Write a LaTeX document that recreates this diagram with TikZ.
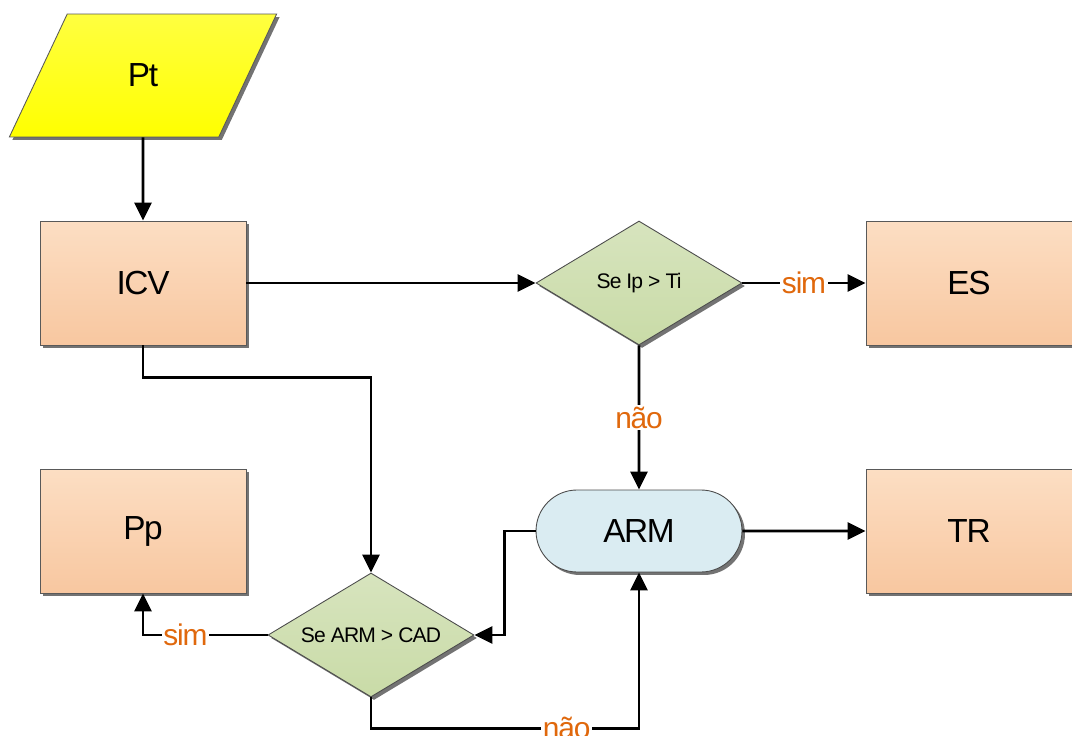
\documentclass[tikz,border=0pt]{standalone}
\usepackage{fontspec}
\setmainfont{Liberation Sans}[LetterSpace=-4]
\usetikzlibrary{shapes.geometric, shapes.misc, arrows.meta, shadows, positioning}
\definecolor{boxtop}{HTML}{FCDEC3}
\definecolor{boxbot}{HTML}{F8C7A0}
\definecolor{testtop}{HTML}{D7E4BE}
\definecolor{testbot}{HTML}{C9DBA7}
\definecolor{storefill}{HTML}{DAECF2}
\definecolor{inputtop}{HTML}{FFFF40}
\definecolor{inputbot}{HTML}{FFFF00}
\definecolor{answercol}{HTML}{E0680C}
\tikzset{
	flowshadow/.style={drop shadow={shadow xshift=0.06cm, shadow yshift=-0.06cm, opacity=1, fill=black!55}}
}
\tikzset{
	procbox/.style={rectangle, draw=black!65, line width=0.5pt, top color=boxtop, bottom color=boxbot,
		minimum width=4.12cm, minimum height=2.48cm, inner sep=0pt, font=\fontsize{19}{22}\selectfont, flowshadow},
	testbox/.style={diamond, shape aspect=1.66, draw=black!70, line width=0.5pt, top color=testtop, bottom color=testbot,
		minimum width=4.12cm, minimum height=2.48cm, inner sep=0pt, font=\fontsize{12}{14}\selectfont, flowshadow},
	storebox/.style={rounded rectangle, draw=black!70, line width=0.5pt, fill=storefill,
		minimum width=4.12cm, minimum height=1.64cm, inner sep=0pt, font=\fontsize{19}{22}\selectfont, flowshadow},
	inputbox/.style={trapezium, trapezium left angle=63.6, trapezium right angle=116.4, trapezium stretches=true,
		draw=black!65, line width=0.5pt, top color=inputtop, bottom color=inputbot,
		minimum width=5.36cm, minimum height=2.46cm, inner sep=0pt, font=\fontsize{19}{22}\selectfont, flowshadow},
	flow/.style={line width=1.5pt, -{Triangle[length=0.36cm, width=0.34cm]}},
	answer/.style={fill=white, text=answercol, inner sep=1pt, font=\fontsize{17}{20}\selectfont}
}

\begin{document}
\begin{tikzpicture}[x=0.02cm, y=-0.02cm]
\useasboundingbox (0,0) rectangle (1072,736);
\node[inputbox] (pt) at (143,75.5) {Pt};
\node[procbox] (icv) at (143,283) {ICV};
\node[testbox] (ipti) at (639,283) {Se Ip > Ti};
\node[procbox] (es) at (969,283) {ES};
\node[procbox] (pp) at (143,531) {Pp};
\node[storebox] (arm) at (639,531) {ARM};
\node[procbox] (tr) at (969,531) {TR};
\node[testbox] (armcad) at (371,635) {Se ARM > CAD};

\draw[flow] (pt) -- (icv);
\draw[flow] (icv) -- (ipti);
\draw[flow] (ipti) -- node[answer] {sim} (es);
\draw[flow] (ipti) -- node[answer] {não} (arm);
\draw[flow] (icv.south) -- ++(0,32) -| (armcad.north);
\draw[flow] (arm.west) -- ++(-31,0) |- (armcad.east);
\draw[flow] (arm) -- (tr);
\draw[flow] (armcad.west) -| node[answer, pos=0.33] {sim} (pp.south);
\draw[flow] (armcad.south) -- ++(0,31) -| node[answer, pos=0.365] {não} (arm.south);
\end{tikzpicture}
\end{document}
